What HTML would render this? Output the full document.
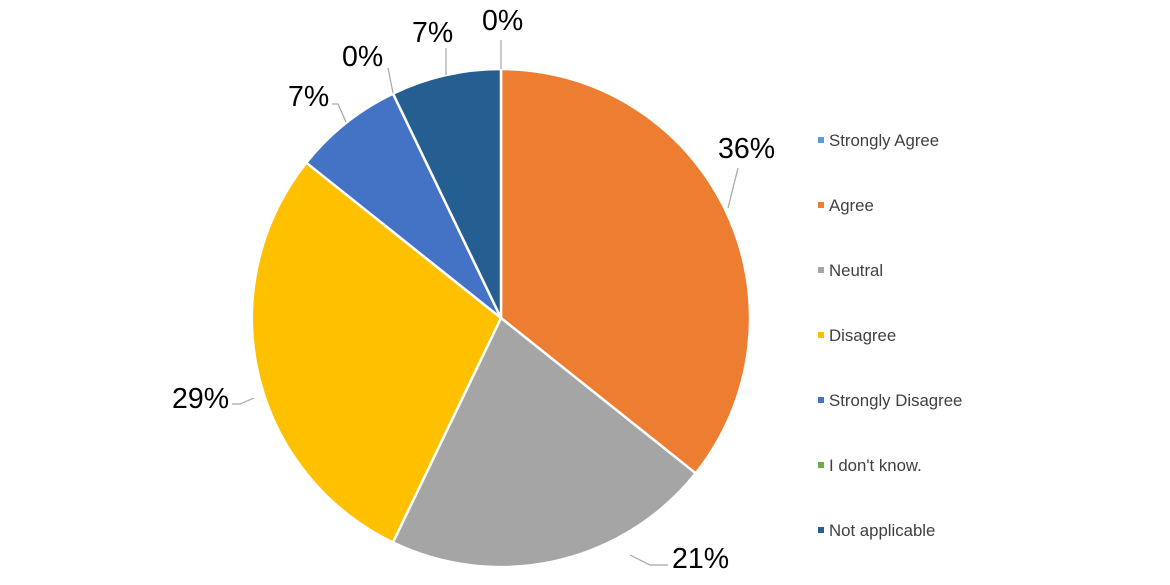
<!DOCTYPE html>
<html><head><style>
html,body{margin:0;padding:0;background:#fff;}
svg{display:block;font-family:"Liberation Sans",Arial,sans-serif;}
</style></head><body>
<svg width="1170" height="585" viewBox="0 0 1170 585">
<g stroke="#fff" stroke-width="2.5" stroke-linejoin="round">
<path d="M501,318 L501,69 A249,249 0 0 1 695.7,473.3 Z" fill="#ED7D31"/>
<path d="M501,318 L695.7,473.3 A249,249 0 0 1 392.9,542.4 Z" fill="#A5A5A5"/>
<path d="M501,318 L392.9,542.4 A249,249 0 0 1 306.3,162.7 Z" fill="#FFC000"/>
<path d="M501,318 L306.3,162.7 A249,249 0 0 1 393,93.6 Z" fill="#4472C4"/>
<path d="M501,318 L393,93.6 A249,249 0 0 1 501,69 Z" fill="#255E91"/>
</g>
<g stroke="#A6A6A6" stroke-width="1.2" fill="none">
<polyline points="728,208 738,168"/>
<polyline points="630,555 650,565 668,565"/>
<polyline points="254,398 240,404 232,404"/>
<polyline points="346,122 338,104 332,104"/>
<polyline points="393,93 388,68"/>
<polyline points="446,75 446,48"/>
<polyline points="501,69 501,40"/>
</g>
<g font-size="28.5" fill="#000">
<text x="718" y="158">36%</text>
<text x="672" y="568">21%</text>
<text x="172" y="408">29%</text>
<text x="288" y="106">7%</text>
<text x="342" y="66">0%</text>
<text x="412" y="42">7%</text>
<text x="482" y="30">0%</text>
</g>
<g font-size="16.8" fill="#404040">
<rect x="818" y="137" width="6" height="6" fill="#5B9BD5"/><text x="829" y="146">Strongly Agree</text>
<rect x="818" y="202" width="6" height="6" fill="#ED7D31"/><text x="829" y="211">Agree</text>
<rect x="818" y="267" width="6" height="6" fill="#A5A5A5"/><text x="829" y="276">Neutral</text>
<rect x="818" y="332" width="6" height="6" fill="#FFC000"/><text x="829" y="341">Disagree</text>
<rect x="818" y="397" width="6" height="6" fill="#4472C4"/><text x="829" y="406">Strongly Disagree</text>
<rect x="818" y="462" width="6" height="6" fill="#70AD47"/><text x="829" y="471">I don't know.</text>
<rect x="818" y="527" width="6" height="6" fill="#255E91"/><text x="829" y="536">Not applicable</text>
</g>
</svg>
</body></html>
